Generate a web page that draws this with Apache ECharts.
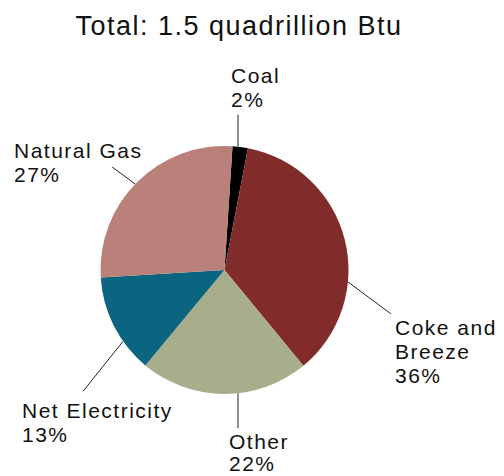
<!DOCTYPE html>
<html lang="en">
<head>
  <meta charset="UTF-8">
  <title>Industrial energy use</title>
  <script src="https://cdn.jsdelivr.net/npm/echarts@6/dist/echarts.min.js"></script>
  <style>
    html, body { margin: 0; padding: 0; background: #fff; }
    #main { width: 504px; height: 476px; }
    /* source font is tracked a bit wider than Arial */
    #main text { letter-spacing: 1.5px; }
  </style>
</head>
<body>
<div id="main"></div>
<script>
  var names = ['Coal', 'Coke and Breeze', 'Other', 'Net Electricity', 'Natural Gas'];
  var labelNames = ['Coal', 'Coke and\nBreeze', 'Other', 'Net Electricity', 'Natural Gas'];
  var shares = [2, 36, 22, 13, 27];
  var colors = ['#000000', '#822b2b', '#a8ae8c', '#0b6480', '#b9817a'];
  var titleText = 'Total: 1.5 quadrillion Btu';

  var FONT = '"Liberation Sans", Arial, Helvetica, sans-serif';
  var CX = 224.5, CY = 270, R = 124;
  // leader line: where it touches the pie (deg clockwise from top), its offset, label top-left, line height
  var leaders = [
    {angle: 6.25, dx: 0, dy: -32, lx: 231, ly: 63, lh: 24},
    {angle: 95.5, dx: 43, dy: 32, lx: 395, ly: 315, lh: 24},
    {angle: 173.75, dx: 0, dy: 35, lx: 229, ly: 430, lh: 22},
    {angle: 234.9, dx: -40, dy: 50, lx: 22, ly: 398, lh: 24},
    {angle: 313.9, dx: -23, dy: -17, lx: 14, ly: 138, lh: 24}
  ];

  var chartDom = document.getElementById('main');
  var myChart = echarts.init(chartDom, null, {renderer: 'svg'});

  var data = names.map(function (n, i) {
    return {name: n, value: shares[i], label: {lineHeight: leaders[i].lh}};
  });

  var option = {
    animation: false,
    color: colors,
    graphic: [
      {
        type: 'text',
        x: 239,
        y: 12,
        style: {
          text: titleText,
          fontSize: 27,
          fontFamily: FONT,
          fill: '#111',
          align: 'center',
          verticalAlign: 'top'
        }
      }
    ],
    series: [
      {
        type: 'pie',
        center: [CX, CY],
        radius: R,
        startAngle: 86.3,
        clockwise: true,
        silent: true,
        data: data,
        itemStyle: {borderWidth: 0},
        label: {
          show: true,
          position: 'outside',
          overflow: 'none',
          fontSize: 21,
          lineHeight: 24,
          fontFamily: FONT,
          color: '#111',
          formatter: function (p) {
            return labelNames[p.dataIndex] + '\n' + p.value + '%';
          }
        },
        labelLine: {
          show: true,
          lineStyle: {color: '#222', width: 1}
        },
        labelLayout: function (p) {
          var l = leaders[p.dataIndex];
          var a = l.angle * Math.PI / 180;
          var x0 = CX + R * Math.sin(a);
          var y0 = CY - R * Math.cos(a);
          return {
            x: l.lx,
            y: l.ly,
            align: 'left',
            verticalAlign: 'top',
            labelLinePoints: [[x0, y0], [x0 + l.dx, y0 + l.dy], [x0 + l.dx, y0 + l.dy]]
          };
        }
      }
    ]
  };
  myChart.setOption(option);
</script>
</body>
</html>
